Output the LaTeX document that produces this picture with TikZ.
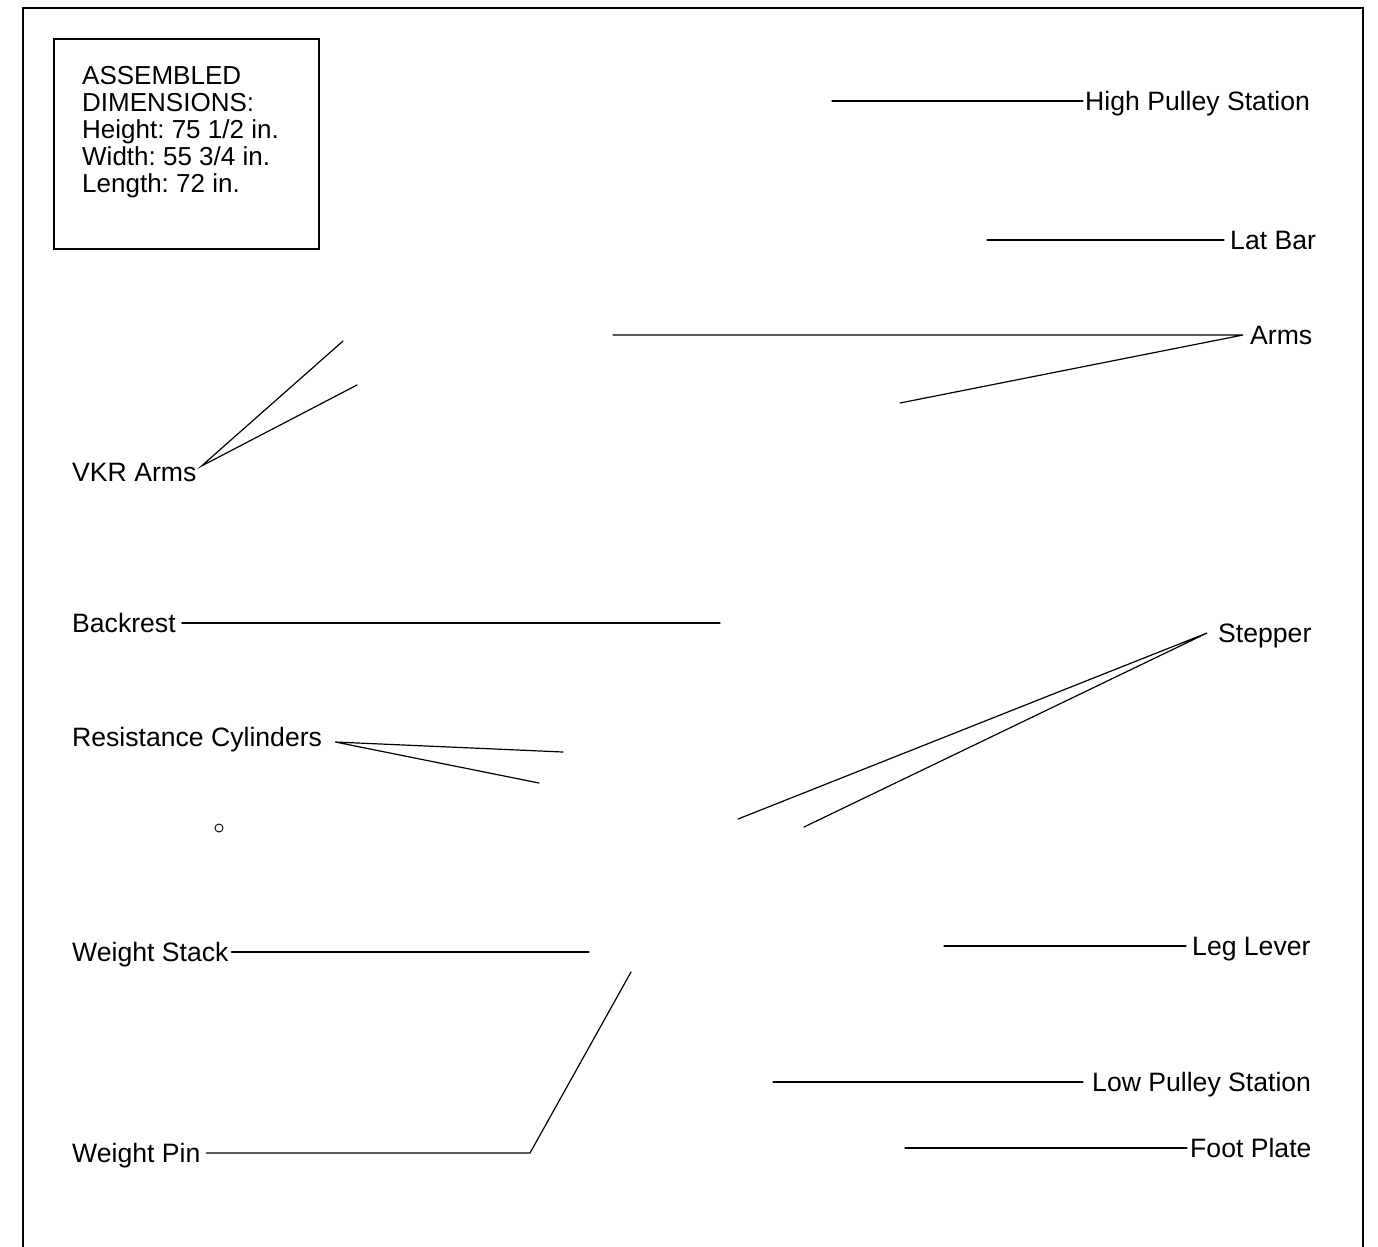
\documentclass[tikz,border=0pt]{standalone}
\usepackage{fontspec}
\setmainfont{Liberation Sans}
\frenchspacing
\begin{document}
\begin{tikzpicture}[x=1bp,y=-1bp,
  lbl/.style={font=\fontsize{26.6bp}{26.6bp}\selectfont, inner sep=0pt, text height=19bp, text depth=0pt},
  conn/.style={line width=1.2bp, line cap=round},
  frame/.style={line width=2.4bp},
  line join=miter]
\useasboundingbox (0,0) rectangle (1378,1246);
% outer frame (open at the bottom)
\draw[frame] (23,1260) -- (23,8) -- (1363,8) -- (1363,1260);
% dimensions box
\node[draw, frame, minimum width=265bp, minimum height=210bp, inner sep=0pt, anchor=north west] (dimbox) at (53,38) {};
\node[anchor=base west, align=left, inner sep=0pt, font=\frenchspacing\fontsize{26bp}{27bp}\selectfont] (dims) at (82,192)
  {ASSEMBLED\\DIMENSIONS:\\Height: 75 1/2 in.\\Width: 55 3/4 in.\\Length: 72 in.};

% right-hand labels
\node[lbl, anchor=west] (hps) at (1085,101) {High Pulley Station};
\coordinate (hpsA) at (832,101);
\draw[conn] (hpsA) -- ([xshift=-2bp]hps.west);

\node[lbl, anchor=west] (lat) at (1230,240) {Lat Bar};
\coordinate (latA) at (987,240);
\draw[conn] (latA) -- ([xshift=-6bp]lat.west);

\node[lbl, anchor=west] (arms) at (1250,335) {Arms};
\coordinate (armsA) at (613,335);
\coordinate (armsB) at (900,403);
\draw[conn] (armsA) -- ([xshift=-7bp]arms.west) -- (armsB);

\node[lbl, anchor=west] (step) at (1218,633) {Stepper};
\coordinate (stepA) at (738,819);
\coordinate (stepB) at (804,827);
\draw[conn] (stepA) -- ([xshift=-11bp]step.west) -- (stepB);

\node[lbl, anchor=west] (leg) at (1192,946) {Leg Lever};
\coordinate (legA) at (944,946);
\draw[conn] (legA) -- ([xshift=-6bp]leg.west);

\node[lbl, anchor=west] (lps) at (1092,1082) {Low Pulley Station};
\coordinate (lpsA) at (773,1082);
\draw[conn] (lpsA) -- ([xshift=-9bp]lps.west);

\node[lbl, anchor=west] (foot) at (1190,1148) {Foot Plate};
\coordinate (footA) at (905,1148);
\draw[conn] (footA) -- ([xshift=-3bp]foot.west);

% left-hand labels
\node[lbl, anchor=west] (vkr) at (72,472) {VKR Arms};
\coordinate (vkrA) at (343,341);
\coordinate (vkrB) at (357,385);
\draw[conn] (vkrA) -- ([xshift=5bp,yshift=6bp]vkr.east) -- (vkrB);

\node[lbl, anchor=west] (back) at (72,623) {Backrest};
\coordinate (backA) at (720,623);
\draw[conn] ([xshift=6bp]back.east) -- (backA);

\node[lbl, anchor=west] (rc) at (72,737) {Resistance Cylinders};
\coordinate (rcA) at (563,752);
\coordinate (rcB) at (539,783);
\draw[conn] (rcA) -- ([xshift=13bp,yshift=-5bp]rc.east) -- (rcB);

\node[circle, draw, line width=0.9bp, minimum size=8bp, inner sep=0pt] (hole) at (219,828) {};

\node[lbl, anchor=west] (ws) at (72,952) {Weight Stack};
\coordinate (wsA) at (589,952);
\draw[conn] ([xshift=3bp]ws.east) -- (wsA);

\node[lbl, anchor=west] (wp) at (72,1153) {Weight Pin};
\coordinate (wpA) at (530,1153);
\coordinate (wpB) at (631,972);
\draw[conn] ([xshift=6bp]wp.east) -- (wpA) -- (wpB);
\end{tikzpicture}
\end{document}
